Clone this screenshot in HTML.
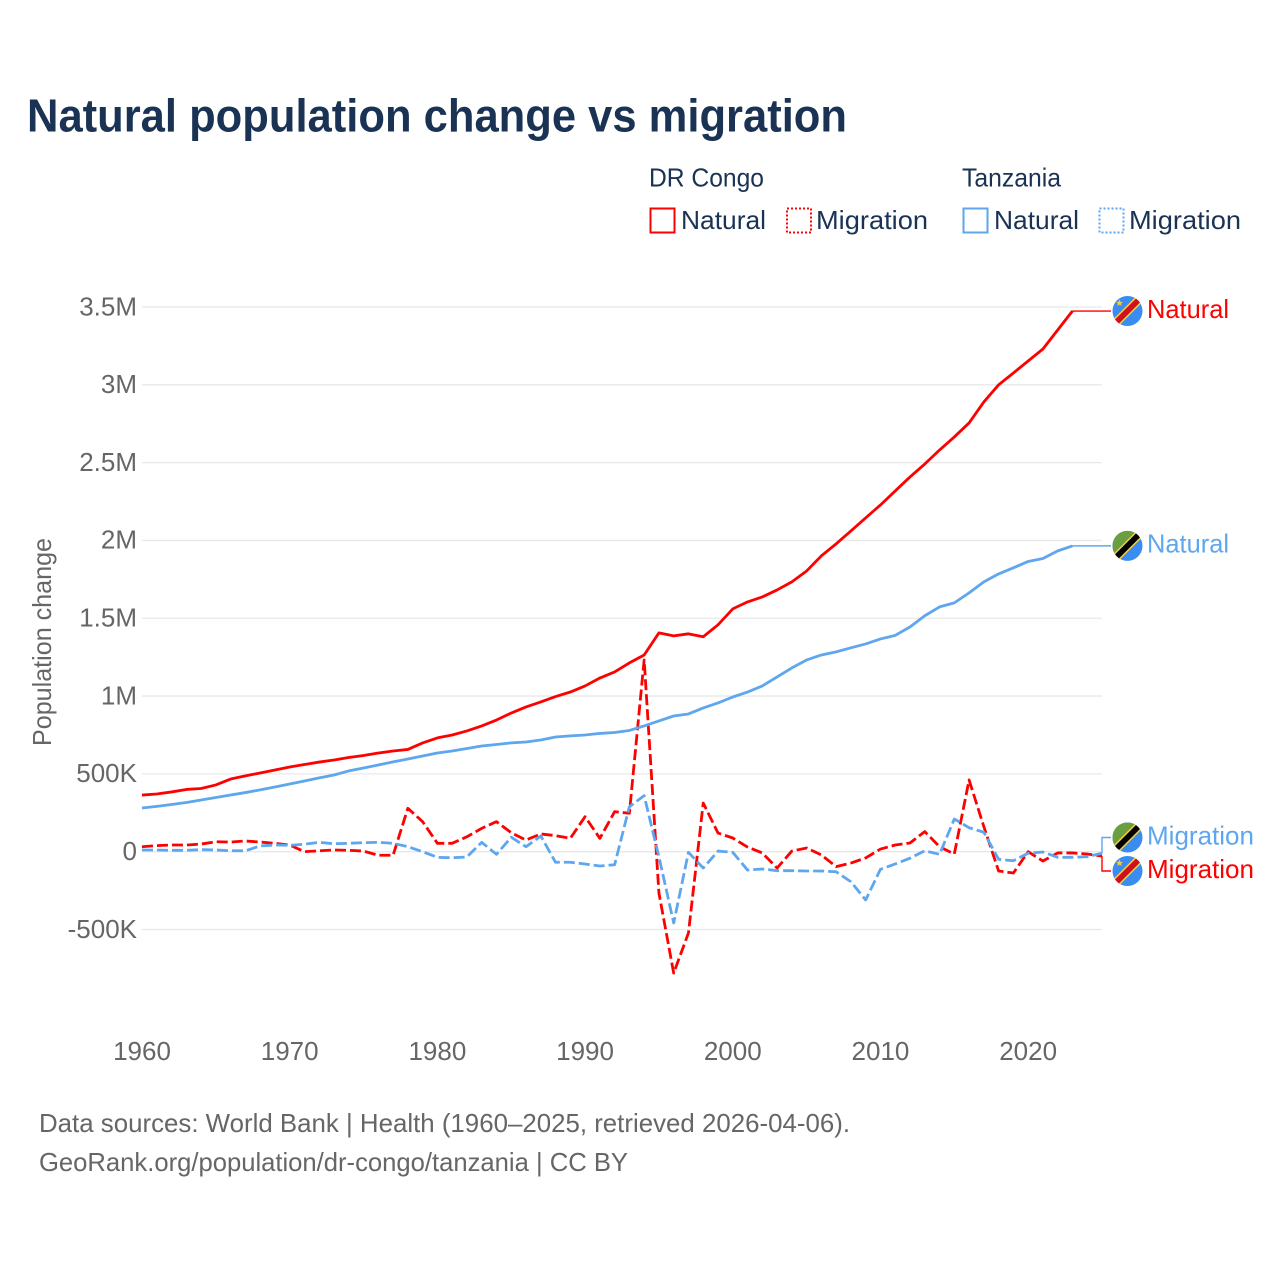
<!DOCTYPE html>
<html lang="en">
<head>
<meta charset="utf-8">
<title>Natural population change vs migration</title>
<style>
html,body{margin:0;padding:0;background:#fff}
svg{display:block}
text{font-family:"Liberation Sans",sans-serif}
</style>
</head>
<body>
<svg id="chart" xmlns="http://www.w3.org/2000/svg" width="1280" height="1280" viewBox="0 0 1280 1280">
<defs>
<clipPath id="flag-clip"><circle cx="0" cy="0" r="15"/></clipPath>
<g id="flag-drc">
<g clip-path="url(#flag-clip)">
<rect x="-16" y="-16" width="32" height="32" fill="#3a8bf2"/>
<path d="M-18 14 L14 -18 L18 -14 L-14 18 Z" fill="#f7d038" stroke="#f7d038" stroke-width="3"/>
<path d="M-18 14 L14 -18 L18 -14 L-14 18 Z" fill="#ce1021"/>
<polygon points="-8,-11.5 -7,-9 -4.5,-9 -6.5,-7.4 -5.8,-5 -8,-6.4 -10.2,-5 -9.5,-7.4 -11.5,-9 -9,-9" fill="#f7d038"/>
</g>
</g>
<g id="flag-tza">
<g clip-path="url(#flag-clip)">
<rect x="-16" y="-16" width="32" height="32" fill="#3a8bf2"/>
<polygon points="-16,-16 16,-16 -16,16" fill="#6a9e3f"/>
<path d="M-18 14 L14 -18 L18 -14 L-14 18 Z" fill="#f7d038" stroke="#f7d038" stroke-width="3"/>
<path d="M-18 14 L14 -18 L18 -14 L-14 18 Z" fill="#000"/>
</g>
</g>
</defs>

<text x="27" y="131.5" font-size="46" font-weight="700" fill="#1a3253" textLength="820" lengthAdjust="spacingAndGlyphs">Natural population change vs migration</text>

<g font-size="26" fill="#1a3253">
<text x="649" y="186.5" textLength="115" lengthAdjust="spacingAndGlyphs">DR Congo</text>
<text x="962" y="186.5" textLength="99" lengthAdjust="spacingAndGlyphs">Tanzania</text>
<rect x="650.5" y="208.5" width="24" height="24" fill="none" stroke="#ff0000" stroke-width="2"/>
<text x="681" y="229" textLength="85" lengthAdjust="spacingAndGlyphs">Natural</text>
<rect x="787" y="208.5" width="24" height="24" fill="none" stroke="#ff0000" stroke-width="2" stroke-dasharray="2 2"/>
<text x="816" y="229" textLength="112" lengthAdjust="spacingAndGlyphs">Migration</text>
<rect x="963.5" y="208.5" width="24" height="24" fill="none" stroke="#5ea6ee" stroke-width="2"/>
<text x="994" y="229" textLength="85" lengthAdjust="spacingAndGlyphs">Natural</text>
<rect x="1099.5" y="208.5" width="24" height="24" fill="none" stroke="#5ea6ee" stroke-width="2" stroke-dasharray="2 2"/>
<text x="1129" y="229" textLength="112" lengthAdjust="spacingAndGlyphs">Migration</text>
</g>

<g id="grid"></g>
<g id="y-ticks"></g>
<g id="x-ticks"></g>
<text transform="translate(51 642) rotate(-90)" text-anchor="middle" font-size="26" fill="#666" textLength="208" lengthAdjust="spacingAndGlyphs">Population change</text>
<g id="series"></g>
<g id="end-labels"></g>

<g font-size="26" fill="#666">
<text x="39" y="1132" textLength="811" lengthAdjust="spacingAndGlyphs">Data sources: World Bank | Health (1960–2025, retrieved 2026-04-06).</text>
<text x="39" y="1171" textLength="589" lengthAdjust="spacingAndGlyphs">GeoRank.org/population/dr-congo/tanzania | CC BY</text>
</g>
</svg>

<script>
const startYear = 1960;
const xTickYears = [1960, 1970, 1980, 1990, 2000, 2010, 2020];
const yTickValues = [-500, 0, 500, 1000, 1500, 2000, 2500, 3000, 3500];
const yTickLabels = ["-500K", "0", "500K", "1M", "1.5M", "2M", "2.5M", "3M", "3.5M"];

// Values in thousands, one per year from 1960
const drcNatural = [364,371,384,400,406,429,467,487,506,525,544,560,576,589,605,618,634,647,657,699,731,750,776,808,846,891,930,962,997,1026,1065,1116,1155,1213,1264,1406,1387,1400,1381,1458,1560,1605,1637,1682,1734,1804,1901,1978,2061,2145,2228,2318,2408,2491,2581,2665,2755,2890,3000,3076,3153,3230,3352,3474];
const tzaNatural = [281,291,303,316,332,348,364,380,397,416,435,454,474,493,519,538,557,577,596,615,634,647,663,679,689,699,705,718,737,744,750,760,766,779,808,840,872,885,924,956,994,1026,1065,1123,1181,1232,1264,1284,1310,1335,1367,1390,1444,1516,1573,1599,1663,1734,1785,1824,1865,1884,1933,1965];
const drcMigration = [32,39,43,43,49,64,62,69,62,54,43,0,6,11,9,4,-23,-23,279,193,54,54,96,150,193,122,75,114,103,86,225,86,257,247,1232,-265,-780,-522,313,120,88,30,-8,-105,4,24,-21,-96,-73,-40,17,43,56,129,32,-15,461,161,-124,-137,0,-60,-8,-8,-15,-28];
const tzaMigration = [11,11,9,9,13,11,6,6,37,43,41,48,60,51,54,58,60,54,32,0,-36,-39,-34,60,-17,93,32,101,-68,-68,-79,-92,-84,289,360,-32,-458,-4,-105,4,-4,-118,-111,-122,-122,-124,-124,-129,-193,-310,-113,-79,-42,6,-17,210,154,125,-49,-58,-10,-2,-36,-36,-32,-10];

const SVGNS = "http://www.w3.org/2000/svg";
const RED = "#ff0000";
const BLUE = "#5ea6ee";
const plotLeft = 142, plotRight = 1102;
const xScale = year => plotLeft + (year - 1960) * (plotRight - plotLeft) / 65;
const yScale = value => 851.7 - value * 0.15563;

function make(tag, parent) {
  const el = document.createElementNS(SVGNS, tag);
  parent.appendChild(el);
  return el;
}

const grid = document.getElementById("grid");
const yTicks = document.getElementById("y-ticks");
const xTicks = document.getElementById("x-ticks");
const seriesGroup = document.getElementById("series");
const endLabels = document.getElementById("end-labels");

yTickValues.forEach(function (value, i) {
  const line = make("line", grid);
  
  
  line.setAttribute("x1", plotLeft);
  line.setAttribute("x2", plotRight);
  line.setAttribute("y1", yScale(value));
  line.setAttribute("y2", yScale(value));
  line.setAttribute("stroke", "#e8e8e8");
  line.setAttribute("stroke-width", "1.3");
  const label = make("text", yTicks);
  
  
  label.setAttribute("x", 137);
  label.setAttribute("y", yScale(value) + 8.3);
  label.setAttribute("text-anchor", "end");
  label.setAttribute("font-size", "26");
  label.setAttribute("fill", "#666");
  label.textContent = yTickLabels[i];
});

xTickYears.forEach(function (year) {
  const label = make("text", xTicks);
  
  
  label.setAttribute("x", xScale(year));
  label.setAttribute("y", 1060);
  label.setAttribute("text-anchor", "middle");
  label.setAttribute("font-size", "26");
  label.setAttribute("fill", "#666");
  label.textContent = year;
});

function pointsOf(values) {
  return values.map(function (v, i) {
    return xScale(startYear + i).toFixed(2) + "," + yScale(v).toFixed(2);
  }).join(" ");
}

function drawSeries(values, color, dashed, seriesName) {
  const line = make("polyline", seriesGroup);
  
  
  line.setAttribute("points", pointsOf(values));
  line.setAttribute("fill", "none");
  line.setAttribute("stroke", color);
  line.setAttribute("stroke-width", "2.8");
  line.setAttribute("stroke-linejoin", "round");
  if (dashed) {
    line.setAttribute("stroke-dasharray", "11 4");
  }
}

drawSeries(drcMigration, RED, true, "dr-congo-migration-line");
drawSeries(tzaMigration, BLUE, true, "tanzania-migration-line");
drawSeries(tzaNatural, BLUE, false, "tanzania-natural-line");
drawSeries(drcNatural, RED, false, "dr-congo-natural-line");

function drawEndLabel(values, color, flagId, text, labelY, labelName) {
  const lastIndex = values.length - 1;
  const ex = xScale(startYear + lastIndex);
  const ey = yScale(values[lastIndex]);
  const y = labelY === null ? ey : labelY;
  const connector = make("polyline", endLabels);
  
  
  connector.setAttribute("points", labelY === null
    ? ex + "," + ey + " 1111," + y
    : ex + "," + ey + " " + ex + "," + y + " 1111," + y);
  connector.setAttribute("fill", "none");
  connector.setAttribute("stroke", color);
  connector.setAttribute("stroke-width", "1.4");
  const flag = make("use", endLabels);
  
  
  flag.setAttribute("href", "#" + flagId);
  flag.setAttribute("transform", "translate(1127.5 " + y + ")");
  const label = make("text", endLabels);
  
  
  label.setAttribute("x", 1147);
  label.setAttribute("y", y + 6.8);
  label.setAttribute("font-size", "26");
  label.setAttribute("fill", color);
  label.setAttribute("textLength", text === "Natural" ? 82 : 107);
  label.setAttribute("lengthAdjust", "spacingAndGlyphs");
  label.textContent = text;
}

drawEndLabel(drcNatural, RED, "flag-drc", "Natural", null, "dr-congo-natural-label");
drawEndLabel(tzaNatural, BLUE, "flag-tza", "Natural", null, "tanzania-natural-label");
drawEndLabel(tzaMigration, BLUE, "flag-tza", "Migration", 837.5, "tanzania-migration-label");
drawEndLabel(drcMigration, RED, "flag-drc", "Migration", 871, "dr-congo-migration-label");
</script>
</body>
</html>
